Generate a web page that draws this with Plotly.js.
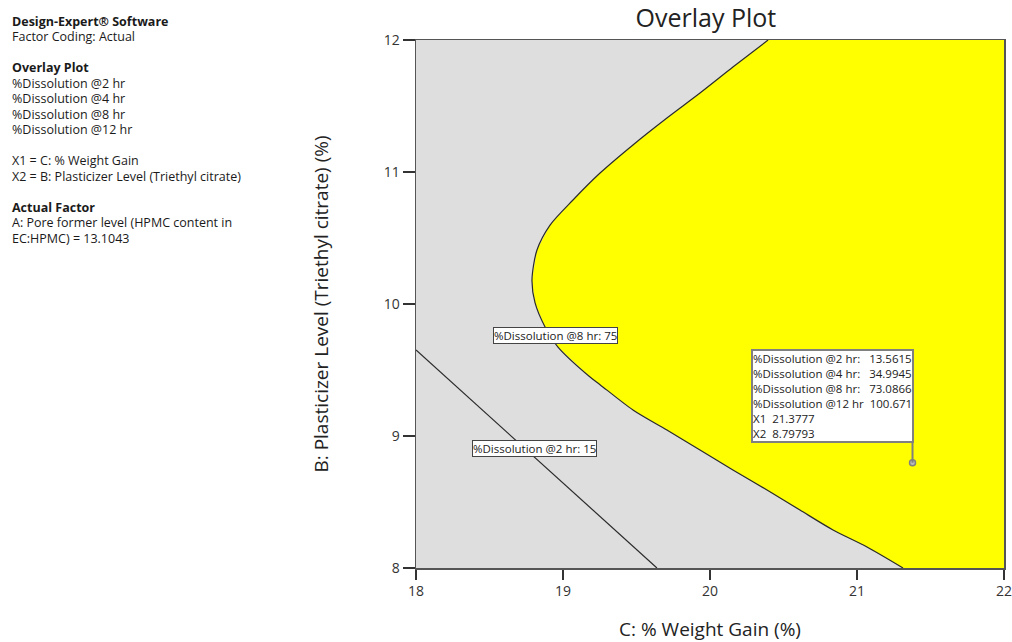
<!DOCTYPE html>
<html>
<head>
<meta charset="utf-8">
<script src="https://cdn.plot.ly/plotly-3.0.1.min.js"></script>
<style>html,body{margin:0;padding:0;background:#fff;}</style>
</head>
<body>
<div id="chart" style="width:1012px;height:642px;"></div>
<script>
// ---- Data ----
// %Dissolution @8 hr = 75 contour (boundary of the yellow design space)
const weightGain8hr = [20.395, 20.156, 19.932, 19.707, 19.476, 19.252, 19.068, 18.912, 18.823, 18.789, 18.810, 18.878, 18.966, 19.184, 19.252, 19.476, 19.707, 19.932, 20.156, 20.388, 20.612, 20.837, 21.068, 21.313];
const plasticizer8hr = [12.0, 11.795, 11.598, 11.409, 11.205, 10.992, 10.788, 10.598, 10.409, 10.182, 10.008, 9.826, 9.674, 9.447, 9.389, 9.197, 9.045, 8.894, 8.742, 8.591, 8.439, 8.288, 8.159, 8.0];
// %Dissolution @2 hr = 15 contour
const weightGain2hr = [18.0, 19.639];
const plasticizer2hr = [9.652, 8.0];
// Axis ranges and ticks
const weightGainRange = [18, 22];
const plasticizerRange = [8, 12];
const weightGainTicks = [18, 19, 20, 21, 22];
const plasticizerTicks = [8, 9, 10, 11, 12];
// Flagged point
const flagX1 = 21.3777;
const flagX2 = 8.79793;
const flagLabels = ["%Dissolution @2 hr:", "%Dissolution @4 hr:", "%Dissolution @8 hr:", "%Dissolution @12 hr", "X1", "X2"];
const flagValues = ["13.5615", "34.9945", "73.0866", "100.671", "21.3777", "8.79793"];
const flagGaps = [3, 3, 3, 2, 2, 2];
// Contour labels
const contourLabels = ["%Dissolution @8 hr: 75", "%Dissolution @2 hr: 15"];
const contourLabelX = [18.952, 18.803];
const contourLabelY = [9.758, 8.902];
// Side text
const sideText = [
  "<b>Design-Expert® Software</b>",
  "Factor Coding: Actual",
  "",
  "<b>Overlay Plot</b>",
  "%Dissolution @2 hr",
  "%Dissolution @4 hr",
  "%Dissolution @8 hr",
  "%Dissolution @12 hr",
  "",
  "X1 = C: % Weight Gain",
  "X2 = B: Plasticizer Level (Triethyl citrate)",
  "",
  "<b>Actual Factor</b>",
  "A: Pore former level (HPMC content in",
  "EC:HPMC) = 13.1043"
];

// ---- Layout geometry ----
const W = 1012, H = 642;
const M = {l: 416, r: 8, t: 40, b: 74};
const plotW = W - M.l - M.r, plotH = H - M.t - M.b;
const pxToPaperX = p => (p - M.l) / plotW;
const pxToPaperY = p => (H - M.b - p) / plotH;

// ---- Traces ----
const fillX = weightGain8hr.concat([weightGainRange[1], weightGainRange[1]]);
const fillY = plasticizer8hr.concat([plasticizerRange[0], plasticizerRange[1]]);

const traces = [
  {
    x: fillX, y: fillY, type: 'scatter', mode: 'lines',
    fill: 'toself', fillcolor: '#ffff00', line: {width: 0, color: '#ffff00'},
    hoverinfo: 'skip', showlegend: false
  },
  {
    x: weightGain8hr, y: plasticizer8hr, type: 'scatter', mode: 'lines',
    line: {color: '#2a2a2a', width: 1.2, shape: 'spline', smoothing: 0.8},
    hoverinfo: 'skip', showlegend: false
  },
  {
    x: weightGain2hr, y: plasticizer2hr, type: 'scatter', mode: 'lines',
    line: {color: '#2a2a2a', width: 1.2},
    hoverinfo: 'skip', showlegend: false
  },
  {
    x: [flagX1], y: [flagX2], type: 'scatter', mode: 'markers',
    marker: {symbol: 'circle', size: 6, color: '#bbbbbb', line: {color: '#808080', width: 1.5}},
    hoverinfo: 'skip', showlegend: false
  }
];

const flagText = flagLabels.map((l, i) => l + "\u00A0".repeat(flagGaps[i]) + flagValues[i]).join("<br>");

const annotations = [];
sideText.forEach((t, i) => {
  if (!t) return;
  annotations.push({
    xref: 'paper', yref: 'paper', x: pxToPaperX(10), y: pxToPaperY(21 + 15.5 * i),
    xanchor: 'left', yanchor: 'middle', align: 'left', showarrow: false,
    text: t,
    font: {family: 'Open Sans', size: 12.5, color: '#1a1a1a'}
  });
});
annotations.push({
  x: flagX1, y: flagX2, xref: 'x', yref: 'y',
  xanchor: 'right', yanchor: 'bottom', yshift: 20, xshift: 1,
  showarrow: false, align: 'left',
  text: flagText,
  font: {family: 'Open Sans', size: 11.5, color: '#222'},
  bgcolor: '#ffffff', bordercolor: '#808080', borderwidth: 2, borderpad: 0
});
contourLabels.forEach((t, i) => {
  annotations.push({
    x: contourLabelX[i], y: contourLabelY[i], xref: 'x', yref: 'y',
    showarrow: false, text: t,
    font: {family: 'Open Sans', size: 11.5, color: '#222'},
    bgcolor: '#ffffff', bordercolor: '#444', borderwidth: 1, borderpad: 0
  });
});

const layout = {
  width: W, height: H,
  margin: M,
  paper_bgcolor: '#ffffff', plot_bgcolor: '#dedede',
  font: {family: 'Open Sans', color: '#222'},
  showlegend: false,
  hovermode: false,
  title: {
    text: 'Overlay Plot', font: {family: 'Open Sans', size: 25, color: '#222'},
    xref: 'paper', x: 0.493, xanchor: 'center',
    yref: 'container', y: 0.972, yanchor: 'middle'
  },
  xaxis: {
    range: weightGainRange, tickvals: weightGainTicks, ticktext: weightGainTicks.map(String),
    ticks: 'outside', ticklen: 10, tickwidth: 1.2, tickcolor: '#333',
    showline: true, linecolor: '#555', linewidth: 1.5, mirror: true,
    showgrid: false, zeroline: false, ticklabeloverflow: 'allow',
    tickfont: {size: 14, color: '#333'},
    title: {text: 'C: % Weight Gain (%)', font: {size: 19, color: '#222'}, standoff: 25},
    automargin: false
  },
  yaxis: {
    range: plasticizerRange, tickvals: plasticizerTicks, ticktext: plasticizerTicks.map(String),
    ticks: 'outside', ticklen: 12, tickwidth: 1.2, tickcolor: '#333',
    showline: true, linecolor: '#555', linewidth: 1.5, mirror: true,
    showgrid: false, zeroline: false, ticklabeloverflow: 'allow',
    tickfont: {size: 14, color: '#333'},
    title: {text: 'B: Plasticizer Level (Triethyl citrate) (%)', font: {size: 19, color: '#222'}, standoff: 50},
    automargin: false
  },
  shapes: [
    {
      type: 'line', xref: 'x', yref: 'y', ysizemode: 'pixel', yanchor: flagX2,
      x0: flagX1, x1: flagX1, y0: 0, y1: 20,
      line: {color: '#808080', width: 2}
    }
  ],
  annotations: annotations
};

Plotly.newPlot('chart', traces, layout, {displayModeBar: false, staticPlot: true});
</script>
</body>
</html>
